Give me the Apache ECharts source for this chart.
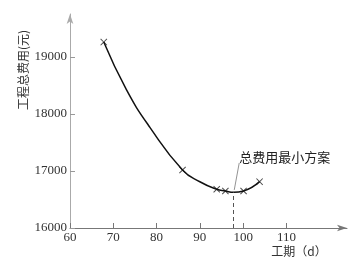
<!DOCTYPE html>
<html><head><meta charset="utf-8">
<script src="https://cdn.jsdelivr.net/npm/echarts@6/dist/echarts.min.js"></script>
<style>html,body{margin:0;padding:0;background:#fff}#c{width:361px;height:258px}</style>
</head><body><div id="c"></div>
<script>
// marked schemes (duration in days, total cost in yuan)
var markDays = [67.8, 86.0, 93.9, 95.9, 100.1, 103.8];
var markCost = [19258, 17017, 16679, 16649, 16649, 16812];
// points
var curveDays = [67.8, 73.0, 78.5, 86.0, 90.0, 93.9, 95.9, 97.8, 100.1, 103.8];
var curveCost = [19258, 18430, 17760, 17017, 16810, 16679, 16649, 16626, 16649, 16812];
var xTicks = [60, 70, 80, 90, 100, 110];
var yTicks = [16000, 17000, 18000, 19000];
var optimumDay = 97.8;
var optimumCost = 16626;
var noteText = '总费用最小方案';
var xName = '工期（d）';
var yName = '工程总费用(元)';

var serif = '"Liberation Serif","DejaVu Serif",serif';
var cjk = '"Noto Sans CJK SC","Noto Sans CJK JP",sans-serif';
var chart = echarts.init(document.getElementById('c'));
var xPath = 'path://M0,1L1,0L5,4L9,0L10,1L6,5L10,9L9,10L5,6L1,10L0,9L4,5Z';
var plain = function (v) { return String(v); };

chart.setOption({
  animation: false,
  grid: {left: 70, right: 14, top: 14, bottom: 30},
  xAxis: {
    type: 'value', min: 60, max: 124,
    axisLine: {lineStyle: {color: '#777', width: 1}, symbol: ['none', 'arrow'], symbolSize: [5, 10]},
    axisTick: {inside: true, length: 5, customValues: xTicks, lineStyle: {color: '#777'}},
    axisLabel: {customValues: xTicks, formatter: plain, fontFamily: serif, fontSize: 13, color: '#333', margin: 3},
    splitLine: {show: false}
  },
  yAxis: {
    type: 'value', min: 16000, max: 19750,
    axisLine: {show: true, lineStyle: {color: '#aaa', width: 1}, symbol: ['none', 'arrow'], symbolSize: [5, 10]},
    axisTick: {show: true, inside: true, length: 5, customValues: yTicks, lineStyle: {color: '#999'}},
    axisLabel: {customValues: yTicks, formatter: plain, fontFamily: serif, fontSize: 13, color: '#333', margin: 3},
    splitLine: {show: false}
  },
  graphic: [
    {type: 'text', x: 23, y: 70, rotation: Math.PI / 2,
     style: {text: yName, font: '12px ' + cjk, fill: '#333', align: 'center', verticalAlign: 'middle'}},
    {type: 'text', x: 299, y: 251,
     style: {text: xName, font: '12px ' + cjk, fill: '#333', align: 'center', verticalAlign: 'middle'}}
  ],
  series: [
    {
      type: 'line', smooth: 0.5, showSymbol: false, silent: true,
      data: curveDays.map(function (d, i) { return [d, curveCost[i]]; }),
      lineStyle: {color: '#111', width: 1.5},
      markLine: {
        silent: true, symbol: 'none', label: {show: false},
        data: [
          [{coord: [optimumDay, 16000], lineStyle: {type: [4, 3], color: '#555', width: 1}},
           {coord: [optimumDay, optimumCost]}],
          [{coord: [97.95, 16667], lineStyle: {type: 'solid', color: '#777', width: 0.8}},
           {coord: [99.1, 17140]}]
        ]
      },
      markPoint: {
        silent: true, symbol: 'circle', symbolSize: 0,
        data: [{coord: [99.1, 17251], value: noteText}],
        label: {show: true, position: 'right', distance: 0, formatter: noteText,
                fontFamily: cjk, fontSize: 13, color: '#222'}
      }
    },
    {
      type: 'scatter', silent: true,
      data: markDays.map(function (d, i) { return [d, markCost[i]]; }),
      symbol: xPath, symbolSize: 7,
      itemStyle: {color: '#222'}
    }
  ]
});
</script></body></html>
